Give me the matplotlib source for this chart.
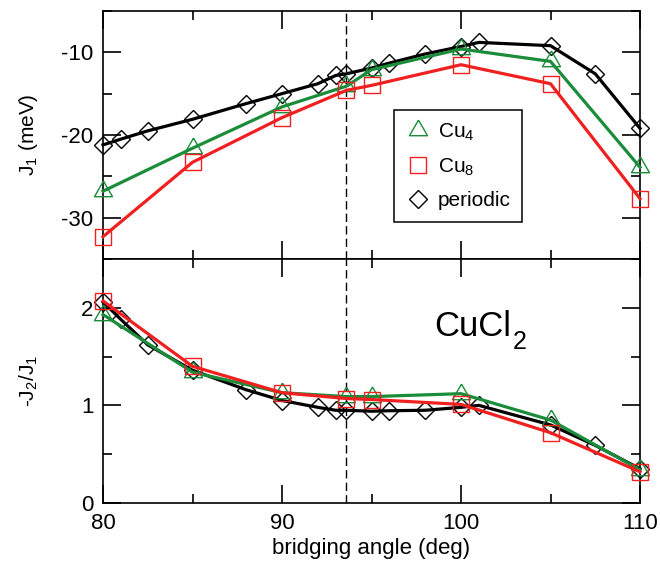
import matplotlib
matplotlib.use("Agg")
import matplotlib.pyplot as plt
from matplotlib.lines import Line2D
from matplotlib.ticker import MultipleLocator

plt.rcParams["font.family"] = ["Liberation Sans", "DejaVu Sans"]
plt.rcParams["mathtext.fontset"] = "custom"
plt.rcParams["mathtext.rm"] = "Liberation Sans"
plt.rcParams["mathtext.it"] = "Liberation Sans:italic"
plt.rcParams["axes.unicode_minus"] = False

# bridging angles (deg)
angle_periodic = [80, 81, 82.5, 85, 88, 90, 92, 93, 93.6, 95, 96, 98, 100, 101, 105, 107.5, 110]
angle_cluster = [80, 85, 90, 93.6, 95, 100, 105, 110]

# J1 (meV)
j1_periodic = [-21.2, -20.5, -19.5, -18.1, -16.2, -15.0, -13.8, -12.8, -12.6,
               -11.9, -11.3, -10.2, -9.3, -8.8, -9.2, -12.6, -19.2]
j1_cu4 = [-26.8, -21.6, -16.6, -14.1, -12.1, -9.6, -11.1, -23.9]
j1_cu8 = [-32.3, -23.3, -17.9, -14.6, -14.0, -11.5, -13.8, -27.7]

# -J2/J1
ratio_periodic = [2.06, 1.88, 1.62, 1.36, 1.16, 1.05, 0.98, 0.95, 0.95,
                  0.94, 0.945, 0.95, 0.98, 1.0, 0.80, 0.59, 0.35]
ratio_cu4 = [1.93, 1.34, 1.13, 1.09, 1.09, 1.12, 0.85, 0.34]
ratio_cu8 = [2.07, 1.40, 1.13, 1.07, 1.06, 1.01, 0.72, 0.32]

experimental_angle = 93.6

GREEN = "#1a8c3a"
RED = "#f02020"
BLACK = "black"

tri_verts = [(0, 1), (-0.866, -0.5), (0.866, -0.5), (0, 1)]

fig = plt.figure(figsize=(6.6, 5.63), dpi=100)
ax_top = fig.add_axes([0.1561, 0.5400, 0.8136, 0.4405])
ax_bot = fig.add_axes([0.1561, 0.1066, 0.8136, 0.4334])

line_kw = dict(lw=2.3, clip_on=False)
mk_kw = dict(mfc="none", mew=1.0)

def draw(ax, yp, y4, y8):
    ax.plot(angle_periodic, yp, color=BLACK, marker="D", ms=9.0, mec=BLACK, zorder=3, **line_kw, **mk_kw)
    ax.plot(angle_cluster, y4, color=GREEN, marker=tri_verts, ms=15, mec=GREEN, zorder=4, **line_kw, **mk_kw)
    ax.plot(angle_cluster, y8, color=RED, marker="s", ms=11, mec=RED, zorder=5, **line_kw, **mk_kw)
    ax.axvline(experimental_angle, color="black", lw=1.0, ls=(0, (6, 3)), zorder=1)

draw(ax_top, j1_periodic, j1_cu4, j1_cu8)
draw(ax_bot, ratio_periodic, ratio_cu4, ratio_cu8)

for ax in (ax_top, ax_bot):
    ax.set_xlim(80, 110)
    ax.xaxis.set_major_locator(MultipleLocator(10))
    ax.xaxis.set_minor_locator(MultipleLocator(5))
    ax.tick_params(which="both", direction="in", top=True, right=True,
                   width=1.2, labelsize=16, pad=7)
    ax.tick_params(which="major", length=13)
    ax.tick_params(which="minor", length=6.5)
    for sp in ax.spines.values():
        sp.set_linewidth(1.2)
        sp.set_zorder(2)

ax_top.set_ylim(-35, -5)
ax_top.yaxis.set_major_locator(MultipleLocator(10))
ax_top.yaxis.set_minor_locator(MultipleLocator(5))
ax_top.tick_params(labelbottom=False)
ax_top.set_ylabel(r"J$_1$ (meV)", fontsize=15)
ax_top.yaxis.set_label_coords(-0.118, 0.5)

ax_bot.set_ylim(0, 2.5)
ax_bot.yaxis.set_major_locator(MultipleLocator(1))
ax_bot.yaxis.set_minor_locator(MultipleLocator(0.5))
ax_bot.set_ylabel(r"-J$_2$/J$_1$", fontsize=15)
ax_bot.yaxis.set_label_coords(-0.118, 0.5)
ax_bot.set_xlabel("bridging angle (deg)", fontsize=16, labelpad=3)

# compound label with a lowered subscript
main = ax_bot.text(98.5, 1.71, "CuCl", fontsize=25, ha="left", va="baseline")
ax_bot.annotate("2", xy=(1, 0), xycoords=main, xytext=(1.0, -4.0),
                textcoords="offset points", fontsize=18, ha="left", va="baseline")

handles = [
    Line2D([], [], ls="none", marker=tri_verts, ms=15, mec=GREEN, **mk_kw),
    Line2D([], [], ls="none", marker="s", ms=11, mec=RED, **mk_kw),
    Line2D([], [], ls="none", marker="D", ms=9.0, mec=BLACK, **mk_kw),
]
labels = [r"Cu$_4$", r"Cu$_8$", "periodic"]
leg = ax_top.legend(handles, labels, loc="upper left",
                    bbox_to_anchor=(394 / 660, 1 - 110 / 563),
                    bbox_transform=fig.transFigure, borderaxespad=0,
                    fontsize=15, frameon=True, fancybox=False, shadow=False,
                    edgecolor="black", framealpha=1, handlelength=1.2,
                    handletextpad=0.35, labelspacing=0.65, borderpad=0.55)
leg.get_frame().set_linewidth(1.1)
leg.set_zorder(10)

fig.savefig("out.png", dpi=100)
